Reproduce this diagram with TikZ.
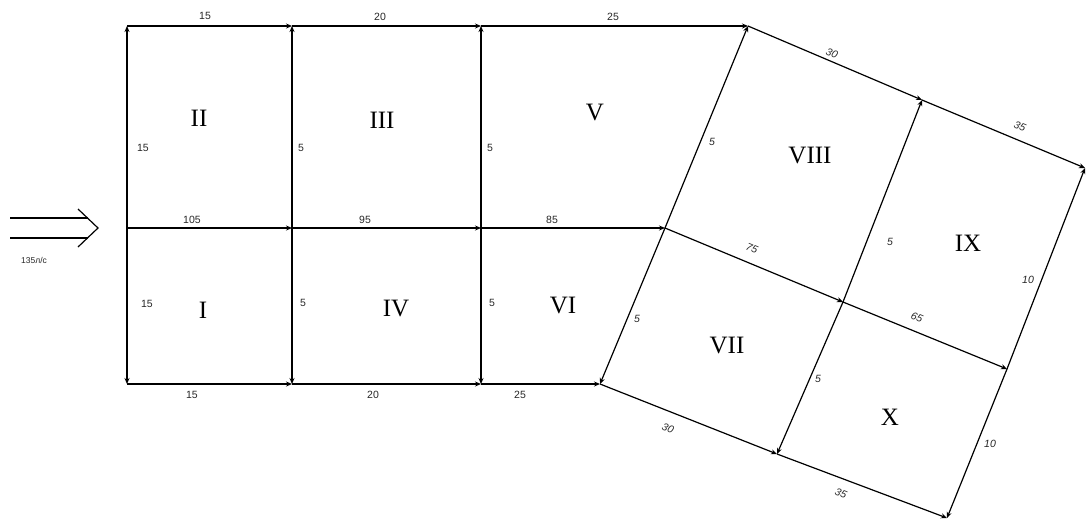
\documentclass[tikz,border=0pt]{standalone}
\usepackage{fontspec}
\setmainfont{Liberation Serif}
\newfontfamily\lblfont{Liberation Sans}
\usetikzlibrary{arrows.meta}
\tikzset{
  flow/.style={line width=1.2pt, -{Stealth[length=6pt,width=5pt]}},
  plain/.style={line width=1.2pt},
  region/.style={font=\fontsize{25}{25}\selectfont, inner sep=0pt},
  lbl/.style={font=\lblfont\fontsize{10.5}{11}\selectfont, text=black!85, inner sep=0pt},
  rlbl/.style={font=\lblfont\itshape\fontsize{10.5}{11}\selectfont, text=black!85, inner sep=0pt},
}
\begin{document}
\begin{tikzpicture}[x=1pt,y=-1pt]
\useasboundingbox (0,0) rectangle (1088,523);
% grid points
\coordinate (t1) at (127,26);  \coordinate (t2) at (292,26);  \coordinate (t3) at (481,26);  \coordinate (A) at (748,26);
\coordinate (m1) at (127,228); \coordinate (m2) at (292,228); \coordinate (m3) at (481,228); \coordinate (B) at (665,228);
\coordinate (b1) at (127,384); \coordinate (b2) at (292,384); \coordinate (b3) at (481,384); \coordinate (C) at (600,384);
\coordinate (M1) at (922,100); \coordinate (R1) at (1085,168);
\coordinate (M2) at (843,302); \coordinate (R2) at (1007,369);
\coordinate (M3) at (777,454); \coordinate (R3) at (947,518);
% inflow arrow
\coordinate (in1) at (10,218); \coordinate (in1e) at (88,218);
\coordinate (in2) at (10,238); \coordinate (in2e) at (88,238);
\coordinate (hu) at (78,209); \coordinate (tip) at (98,228); \coordinate (hd) at (78,247);
\draw[plain] (in1) -- (in1e);
\draw[plain] (in2) -- (in2e);
\draw[plain] (hu) -- (tip) -- (hd);
\node[lbl, font=\lblfont\fontsize{8.5}{9}\selectfont] (q) at (34,260) {135л/с};
% horizontal lines
\draw[flow] (t1) -- (t2); \draw[flow] (t2) -- (t3); \draw[flow] (t3) -- (A);
\draw[flow] (m1) -- (m2); \draw[flow] (m2) -- (m3); \draw[flow] (m3) -- (B);
\draw[flow] (b1) -- (b2); \draw[flow] (b2) -- (b3); \draw[flow] (b3) -- (C);
% vertical lines
\draw[flow] (m1) -- (t1); \draw[flow] (m1) -- (b1);
\draw[flow] (m2) -- (t2); \draw[flow] (m2) -- (b2);
\draw[flow] (m3) -- (t3); \draw[flow] (m3) -- (b3);
% rotated part
\draw[flow] (A) -- (M1); \draw[flow] (M1) -- (R1);
\draw[flow] (B) -- (M2); \draw[flow] (M2) -- (R2);
\draw[flow] (C) -- (M3); \draw[flow] (M3) -- (R3);
\draw[flow] (B) -- (A); \draw[flow] (B) -- (C);
\draw[flow] (M2) -- (M1); \draw[flow] (M2) -- (M3);
\draw[flow] (R2) -- (R1); \draw[flow] (R2) -- (R3);
% region names
\node[region] (rII) at (199,118) {II};
\node[region] (rIII) at (382,120) {III};
\node[region] (rV) at (595,112) {V};
\node[region] (rVIII) at (810,155) {VIII};
\node[region] (rIX) at (968,243) {IX};
\node[region] (rI) at (203,310) {I};
\node[region] (rIV) at (396,308) {IV};
\node[region] (rVI) at (563,305) {VI};
\node[region] (rVII) at (727,345) {VII};
\node[region] (rX) at (890,417) {X};
% edge labels, left part
\node[lbl] (l1) at (205,16) {15};
\node[lbl] (l2) at (380,17) {20};
\node[lbl] (l3) at (613,17) {25};
\node[lbl] (l4) at (192,220) {105};
\node[lbl] (l5) at (365,220) {95};
\node[lbl] (l6) at (552,220) {85};
\node[lbl] (l7) at (192,395) {15};
\node[lbl] (l8) at (373,395) {20};
\node[lbl] (l9) at (520,395) {25};
\node[lbl] (l10) at (143,148) {15};
\node[lbl] (l11) at (147,304) {15};
\node[lbl] (l12) at (301,148) {5};
\node[lbl] (l13) at (303,303) {5};
\node[lbl] (l14) at (490,148) {5};
\node[lbl] (l15) at (492,303) {5};
% edge labels, rotated part
\node[rlbl, rotate=-23] (l16) at (832,53) {30};
\node[rlbl, rotate=-23] (l17) at (1020,126) {35};
\node[rlbl, rotate=-23] (l18) at (752,248) {75};
\node[rlbl, rotate=-23] (l19) at (917,317) {65};
\node[rlbl, rotate=-23] (l20) at (668,428) {30};
\node[rlbl, rotate=-23] (l21) at (841,493) {35};
\node[rlbl] (l22) at (712,142) {5};
\node[rlbl] (l23) at (637,319) {5};
\node[rlbl] (l24) at (890,242) {5};
\node[rlbl] (l25) at (818,379) {5};
\node[rlbl] (l26) at (1028,280) {10};
\node[rlbl] (l27) at (990,444) {10};
\end{tikzpicture}
\end{document}
